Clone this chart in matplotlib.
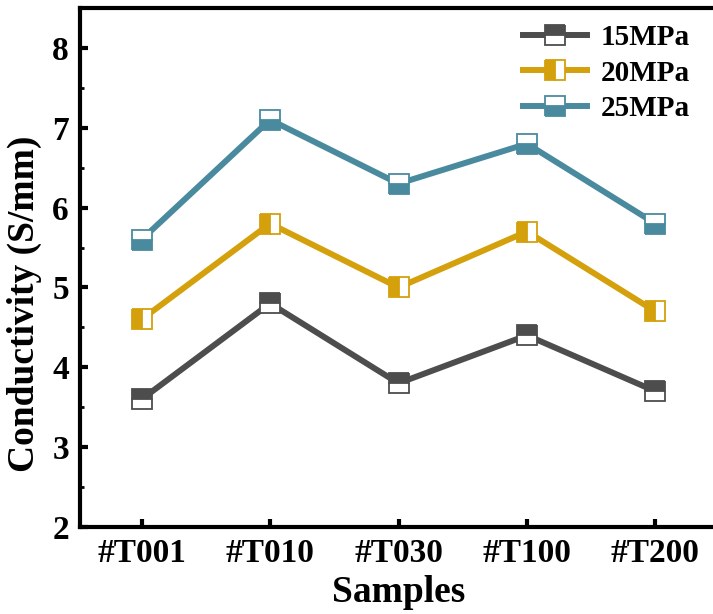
import matplotlib.pyplot as plt
from matplotlib.ticker import MultipleLocator

plt.rcParams['font.family'] = 'Liberation Serif'
plt.rcParams['font.weight'] = 'bold'

samples = ['#T001', '#T010', '#T030', '#T100', '#T200']
p15 = [3.6, 4.8, 3.8, 4.4, 3.7]
p20 = [4.6, 5.8, 5.0, 5.7, 4.7]
p25 = [5.6, 7.1, 6.3, 6.8, 5.8]

series = [
    ('15MPa', p15, '#4d4d4d', 'top'),
    ('20MPa', p20, '#d4a00c', 'left'),
    ('25MPa', p25, '#4a8a9f', 'bottom'),
]

fig = plt.figure(figsize=(7.13, 6.14), dpi=100)
ax = fig.add_axes([80 / 713, 87 / 614, 637 / 713, 519 / 614])

x = range(len(samples))
for label, vals, col, fs in series:
    ax.plot(x, vals, color=col, lw=4.3, marker='s', ms=14,
            fillstyle=fs, markerfacecolor=col, markerfacecoloralt='white',
            markeredgecolor=col, markeredgewidth=1.3, label=label)

ax.set_xlim(-0.48, 4.48)
ax.set_ylim(2, 8.5)
ax.set_xticks(list(x))
ax.set_xticklabels(samples)
ax.yaxis.set_major_locator(MultipleLocator(1))
ax.yaxis.set_minor_locator(MultipleLocator(0.5))

for s in ax.spines.values():
    s.set_linewidth(3)
ax.tick_params(axis='both', which='major', direction='in', length=6, width=3,
               labelsize=24, pad=8)
ax.tick_params(axis='y', which='minor', direction='in', length=3, width=2)
ax.tick_params(axis='x', which='minor', bottom=False)

ax.set_xlabel('Samples', fontsize=27, fontweight='bold', labelpad=4)
ax.set_ylabel('Conductivity (S/mm)', fontsize=27, fontweight='bold')
ax.yaxis.set_label_coords(-0.06, 0.43)

ax.legend(loc='upper right', bbox_to_anchor=(0.998, 1.02), frameon=False,
          fontsize=21, handlelength=2.2, labelspacing=0.3, handletextpad=0.45)

fig.savefig('out.png', dpi=100)
